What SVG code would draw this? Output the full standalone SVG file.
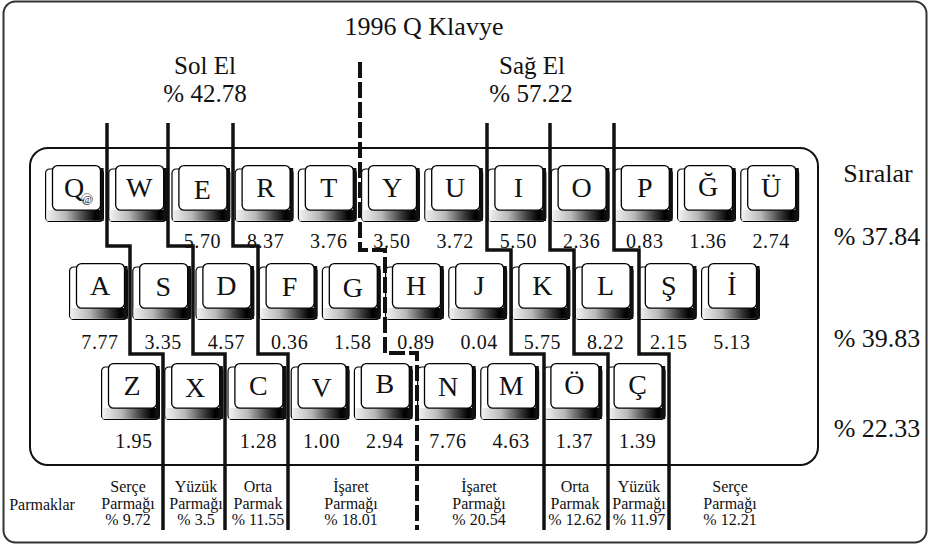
<svg xmlns="http://www.w3.org/2000/svg" width="932" height="549" viewBox="0 0 932 549">
  <style>
    text { font-family: "Liberation Serif", "Times New Roman", serif; fill: #111; text-anchor: middle; }
    .head { font-size: 26px; }
    .hand { font-size: 25px; }
    .cap { font-size: 28px; }
    .num { font-size: 20px; letter-spacing: 0.6px; }
    .lbl { font-size: 16px; }
    .finger { fill: none; stroke: #111; stroke-width: 3.5; stroke-linejoin: miter; }
    .split { fill: none; stroke: #111; stroke-width: 4; stroke-dasharray: 16 4; }
  </style>
  <defs>
    <linearGradient id="kg" x1="0" y1="0" x2="1" y2="0">
      <stop offset="0" stop-color="#f2f2f2"/>
      <stop offset="0.35" stop-color="#b8b8b8"/>
      <stop offset="0.7" stop-color="#3c3c3c"/>
      <stop offset="0.9" stop-color="#000"/>
      <stop offset="1" stop-color="#111"/>
    </linearGradient>
    <!-- a single keycap: base, shaded front strip, dark right side, top face -->
    <g id="key">
      <rect x="0.6" y="4" width="57.8" height="52.5" rx="4" fill="#fff" stroke="#000" stroke-width="1.2"/>
      <rect x="1.5" y="45" width="55" height="10.8" fill="url(#kg)"/>
      <rect x="55" y="3" width="3.6" height="53" fill="#111"/>
      <rect x="7.5" y="0.6" width="48" height="44.6" rx="5" fill="#fff" stroke="#000" stroke-width="1.3"/>
    </g>
  </defs>

  <!-- frames -->
  <rect x="3.5" y="1.5" width="923" height="541" rx="12" fill="#fff" stroke="#333" stroke-width="2"/>
  <rect x="30" y="148" width="788" height="317" rx="18" fill="none" stroke="#111" stroke-width="2"/>

  <!-- headings -->
  <g id="headings">
    <text class="head" x="424" y="35">1996 Q Klavye</text>
    <text class="hand" x="205" y="74">Sol El</text>
    <text class="hand" x="205" y="102">% 42.78</text>
    <text class="hand" x="532" y="74">Sağ El</text>
    <text class="hand" x="531" y="102">% 57.22</text>
  </g>

  <!-- row totals -->
  <g id="rows">
    <text class="head" x="878" y="182">Sıralar</text>
    <text class="head" x="877" y="245">% 37.84</text>
    <text class="head" x="877" y="347">% 39.83</text>
    <text class="head" x="877" y="437">% 22.33</text>
  </g>

  <g id="keys">
  <!-- top row -->
  <g id="key-Q"><use href="#key" x="45" y="165"/><text class="cap" x="74" y="197">Q</text>
    <circle cx="87" cy="199" r="5.5" fill="none" stroke="#777" stroke-width="0.8"/><text x="87" y="202.5" font-size="10" fill="#555">@</text></g>
  <g id="key-W"><use href="#key" x="108.2" y="165"/><text class="cap" x="139.2" y="197">W</text></g>
  <g id="key-E"><use href="#key" x="171.4" y="165"/><text class="cap" x="202.4" y="199">E</text><text class="num" x="202.4" y="248">5.70</text></g>
  <g id="key-R"><use href="#key" x="234.6" y="165"/><text class="cap" x="265.6" y="197">R</text><text class="num" x="265.6" y="248">8.37</text></g>
  <g id="key-T"><use href="#key" x="297.8" y="165"/><text class="cap" x="328.8" y="197">T</text><text class="num" x="328.8" y="248">3.76</text></g>
  <g id="key-Y"><use href="#key" x="361" y="165"/><text class="cap" x="392" y="197">Y</text><text class="num" x="392" y="248">3.50</text></g>
  <g id="key-U"><use href="#key" x="424.2" y="165"/><text class="cap" x="455.2" y="197">U</text><text class="num" x="455.2" y="248">3.72</text></g>
  <g id="key-I"><use href="#key" x="487.4" y="165"/><text class="cap" x="518.4" y="197">I</text><text class="num" x="518.4" y="248">5.50</text></g>
  <g id="key-O"><use href="#key" x="550.6" y="165"/><text class="cap" x="581.6" y="197">O</text><text class="num" x="581.6" y="248">2.36</text></g>
  <g id="key-P"><use href="#key" x="613.8" y="165"/><text class="cap" x="644.8" y="197">P</text><text class="num" x="644.8" y="248">0.83</text></g>
  <g id="key-G-breve"><use href="#key" x="677" y="165"/><text class="cap" x="708" y="196">Ğ</text><text class="num" x="708" y="248">1.36</text></g>
  <g id="key-U-uml"><use href="#key" x="740.2" y="165"/><text class="cap" x="771.2" y="197">Ü</text><text class="num" x="771.2" y="248">2.74</text></g>

  <!-- home row -->
  <g id="key-A"><use href="#key" x="69" y="263"/><text class="cap" x="100" y="295">A</text><text class="num" x="100" y="349">7.77</text></g>
  <g id="key-S"><use href="#key" x="132.2" y="263"/><text class="cap" x="163.2" y="296">S</text><text class="num" x="163.2" y="349">3.35</text></g>
  <g id="key-D"><use href="#key" x="195.4" y="263"/><text class="cap" x="226.4" y="295">D</text><text class="num" x="226.4" y="349">4.57</text></g>
  <g id="key-F"><use href="#key" x="258.6" y="263"/><text class="cap" x="289.6" y="296">F</text><text class="num" x="289.6" y="349">0.36</text></g>
  <g id="key-G"><use href="#key" x="321.8" y="263"/><text class="cap" x="352.8" y="297">G</text><text class="num" x="352.8" y="349">1.58</text></g>
  <g id="key-H"><use href="#key" x="385" y="263"/><text class="cap" x="416" y="295">H</text><text class="num" x="416" y="349">0.89</text></g>
  <g id="key-J"><use href="#key" x="448.2" y="263"/><text class="cap" x="479.2" y="295">J</text><text class="num" x="479.2" y="349">0.04</text></g>
  <g id="key-K"><use href="#key" x="511.4" y="263"/><text class="cap" x="542.4" y="295">K</text><text class="num" x="542.4" y="349">5.75</text></g>
  <g id="key-L"><use href="#key" x="574.6" y="263"/><text class="cap" x="605.6" y="295">L</text><text class="num" x="605.6" y="349">8.22</text></g>
  <g id="key-S-cedilla"><use href="#key" x="637.8" y="263"/><text class="cap" x="668.8" y="295">Ş</text><text class="num" x="668.8" y="349">2.15</text></g>
  <g id="key-I-dot"><use href="#key" x="701" y="263"/><text class="cap" x="732" y="295">İ</text><text class="num" x="732" y="349">5.13</text></g>

  <!-- bottom row -->
  <g id="key-Z"><use href="#key" x="101" y="363"/><text class="cap" x="132" y="395">Z</text><text class="num" x="134" y="448">1.95</text></g>
  <g id="key-X"><use href="#key" x="164.2" y="363"/><text class="cap" x="195.2" y="397">X</text></g>
  <g id="key-C"><use href="#key" x="227.4" y="363"/><text class="cap" x="258.4" y="395">C</text><text class="num" x="258.4" y="448">1.28</text></g>
  <g id="key-V"><use href="#key" x="290.6" y="363"/><text class="cap" x="321.6" y="397">V</text><text class="num" x="321.6" y="448">1.00</text></g>
  <g id="key-B"><use href="#key" x="353.8" y="363"/><text class="cap" x="384.8" y="393">B</text><text class="num" x="384.8" y="448">2.94</text></g>
  <g id="key-N"><use href="#key" x="417" y="363"/><text class="cap" x="448" y="396">N</text><text class="num" x="448" y="448">7.76</text></g>
  <g id="key-M"><use href="#key" x="480.2" y="363"/><text class="cap" x="511.2" y="395">M</text><text class="num" x="511.2" y="448">4.63</text></g>
  <g id="key-O-uml"><use href="#key" x="543.4" y="363"/><text class="cap" x="574.4" y="394">Ö</text><text class="num" x="574.4" y="448">1.37</text></g>
  <g id="key-C-cedilla"><use href="#key" x="606.6" y="363"/><text class="cap" x="637.6" y="394">Ç</text><text class="num" x="637.6" y="448">1.39</text></g>
  </g>

  <!-- finger boundaries -->
  <g id="connectors">
    <path class="finger" d="M107,123 V246 H130 V354 H163 V530"/>
    <path class="finger" d="M168,123 V246 H193 V354 H225 V530"/>
    <path class="finger" d="M233,123 V246 H258 V354 H288 V530"/>
    <path class="finger" d="M487,123 V250 H511 V354 H544 V530"/>
    <path class="finger" d="M550,123 V250 H574 V354 H608 V530"/>
    <path class="finger" d="M614,123 V250 H639 V354 H669 V530"/>
    <path class="split" d="M360,62 V250 H385 V353 H417 V530"/>
  </g>

  <!-- finger labels -->
  <g id="fingers">
    <text class="lbl" x="42" y="510">Parmaklar</text>
    <text class="lbl" x="128" y="492">Serçe</text><text class="lbl" x="128" y="508.5">Parmağı</text><text class="lbl" x="128" y="525">% 9.72</text>
    <text class="lbl" x="196" y="492">Yüzük</text><text class="lbl" x="196" y="508.5">Parmağı</text><text class="lbl" x="196" y="525">% 3.5</text>
    <text class="lbl" x="258" y="492">Orta</text><text class="lbl" x="258" y="508.5">Parmak</text><text class="lbl" x="258" y="525">% 11.55</text>
    <text class="lbl" x="351" y="492">İşaret</text><text class="lbl" x="351" y="508.5">Parmağı</text><text class="lbl" x="351" y="525">% 18.01</text>
    <text class="lbl" x="479" y="492">İşaret</text><text class="lbl" x="479" y="508.5">Parmağı</text><text class="lbl" x="479" y="525">% 20.54</text>
    <text class="lbl" x="575" y="492">Orta</text><text class="lbl" x="575" y="508.5">Parmak</text><text class="lbl" x="575" y="525">% 12.62</text>
    <text class="lbl" x="639" y="492">Yüzük</text><text class="lbl" x="639" y="508.5">Parmağı</text><text class="lbl" x="639" y="525">% 11.97</text>
    <text class="lbl" x="730" y="492">Serçe</text><text class="lbl" x="730" y="508.5">Parmağı</text><text class="lbl" x="730" y="525">% 12.21</text>
  </g>
</svg>
